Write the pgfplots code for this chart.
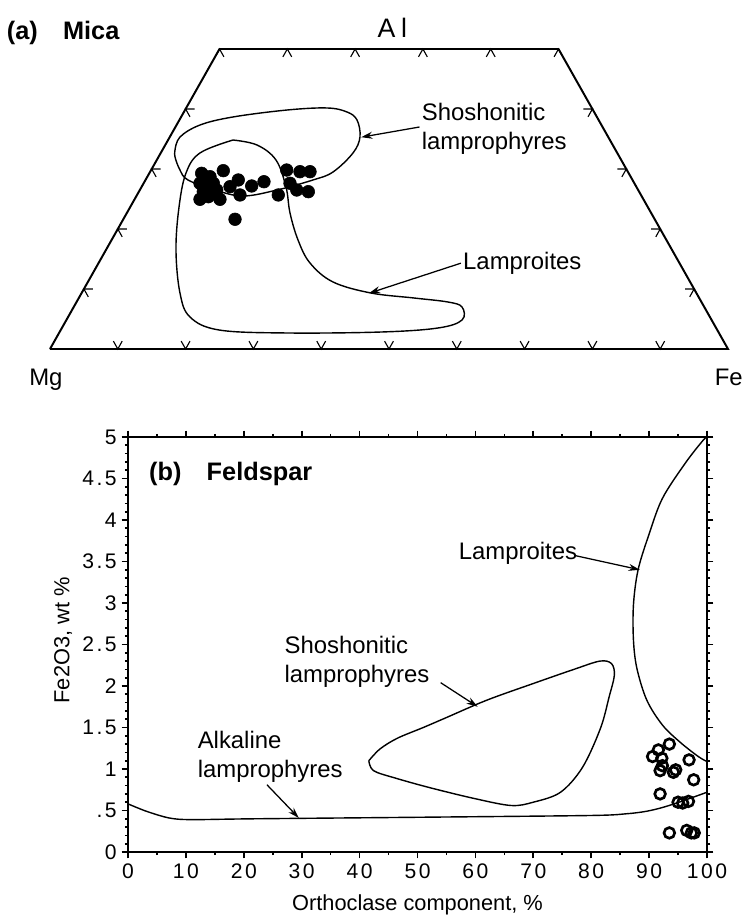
\documentclass[border=0pt]{standalone}
\usepackage{fontspec}
\setmainfont{Liberation Sans}
\usepackage{pgfplots}
\pgfplotsset{compat=1.18}
\usetikzlibrary{arrows.meta}

% ternary-style mica diagram, stored in base/height coordinates
\pgfplotstableread{
x y
0.0935 0.0131
0.1 0
0.1065 0.0131
nan nan
0.1935 0.0131
0.2 0
0.2065 0.0131
nan nan
0.2935 0.0131
0.3 0
0.3065 0.0131
nan nan
0.3935 0.0131
0.4 0
0.4065 0.0131
nan nan
0.4935 0.0131
0.5 0
0.5065 0.0131
nan nan
0.5935 0.0131
0.6 0
0.6065 0.0131
nan nan
0.6935 0.0131
0.7 0
0.7065 0.0131
nan nan
0.7935 0.0131
0.8 0
0.8065 0.0131
nan nan
0.8935 0.0131
0.9 0
0.9065 0.0131
nan nan
0.2435 0.4869
0.25 0.5
0.2565 0.4869
nan nan
0.3435 0.4869
0.35 0.5
0.3565 0.4869
nan nan
0.4435 0.4869
0.45 0.5
0.4565 0.4869
nan nan
0.5435 0.4869
0.55 0.5
0.5565 0.4869
nan nan
0.6435 0.4869
0.65 0.5
0.6565 0.4869
nan nan
0.7435 0.4869
0.75 0.5
0.7565 0.4869
nan nan
0.0633 0.1
0.05 0.1
0.0565 0.0869
nan nan
0.1133 0.2
0.1 0.2
0.1065 0.1869
nan nan
0.1633 0.3
0.15 0.3
0.1565 0.2869
nan nan
0.2133 0.4
0.2 0.4
0.2065 0.3869
nan nan
0.9367 0.1
0.95 0.1
0.9435 0.0869
nan nan
0.8867 0.2
0.9 0.2
0.8935 0.1869
nan nan
0.8367 0.3
0.85 0.3
0.8435 0.2869
nan nan
0.7867 0.4
0.8 0.4
0.7935 0.3869
}\ternticks

\pgfplotstableread{
x y
0.2237 0.2928
0.2360 0.2872
0.2556 0.2972
0.2212 0.2762
0.2311 0.2705
0.2409 0.2762
0.2261 0.2622
0.2385 0.2595
0.2212 0.2495
0.2507 0.2495
0.2655 0.2705
0.2777 0.2817
0.2802 0.2567
0.2975 0.2717
0.3156 0.2788
0.2729 0.2162
0.3491 0.2983
0.3687 0.2955
0.3835 0.2955
0.3540 0.2762
0.3639 0.2650
0.3810 0.2622
0.3367 0.2567
0.2335 0.2538
0.2459 0.2650
}\mica

\pgfplotstableread{
x y
0.1844 0.3317
0.1844 0.3200
0.1917 0.2983
0.2035 0.2817
0.2434 0.2650
0.2847 0.2550
0.3348 0.2650
0.3879 0.2817
0.4174 0.2950
0.4469 0.3267
0.4572 0.3533
0.4528 0.3817
0.4381 0.3950
0.4086 0.4017
0.3496 0.3983
0.2699 0.3867
0.2212 0.3733
0.1917 0.3533
0.1844 0.3317
}\micashosh

\pgfplotstableread{
x y
0.2699 0.3483
0.2212 0.3267
0.2006 0.2933
0.1903 0.2367
0.1858 0.1650
0.1917 0.0933
0.2065 0.0533
0.2493 0.0317
0.3481 0.0267
0.4882 0.0283
0.5723 0.0350
0.6077 0.0483
0.6077 0.0700
0.5870 0.0783
0.5369 0.0850
0.4735 0.0933
0.4174 0.1117
0.3835 0.1433
0.3658 0.1817
0.3540 0.2267
0.3481 0.2700
0.3333 0.3150
0.3053 0.3400
0.2699 0.3483
}\micalamp

% feldspar
\pgfplotstableread{
x y
90.6 1.15
91.6 1.23
93.5 1.30
92.2 1.13
92.3 1.04
91.9 0.98
94.2 0.96
94.6 0.99
96.9 1.11
97.7 0.87
91.9 0.70
95.0 0.60
95.8 0.59
96.8 0.61
93.5 0.23
96.5 0.26
97.3 0.23
97.8 0.23
}\feld

\pgfplotstableread{
x y
41.6 1.10
43.5 1.24
46.5 1.37
51.0 1.50
55.0 1.62
62.0 1.83
70.0 2.03
77.0 2.20
81.5 2.30
83.5 2.27
84.0 2.13
83.1 1.87
81.6 1.49
78.5 1.02
74.7 0.72
70.0 0.60
66.2 0.56
60.1 0.64
52.4 0.77
46.2 0.89
42.4 0.98
41.6 1.10
}\feldshosh

\pgfplotstableread{
x y
100 5.0
99.2 4.95
96.2 4.68
92.3 4.26
90.0 3.83
88.1 3.40
87.3 2.98
87.3 2.55
87.9 2.21
89.6 1.83
92.3 1.53
95.4 1.32
98.5 1.15
100 1.09
}\feldlamp

\pgfplotstableread{
x y
0 0.58
3.2 0.49
7.1 0.41
10.9 0.39
21.7 0.40
52.4 0.42
80.0 0.44
86.0 0.46
89.5 0.49
92.5 0.54
96.0 0.62
100 0.72
}\feldalk

\newcommand\lbl{\fontsize{17}{20.5}\selectfont}
\begin{document}
\begin{tikzpicture}
\path[use as bounding box] (0,0) rectangle (18.6cm,23.025cm);

\begin{axis}[
    at={(1.25cm,14.3cm)}, anchor=south west,
    scale only axis, width=16.95cm, height=7.5cm,
    xmin=0, xmax=1, ymin=0, ymax=0.5,
    axis lines=none, clip=false,
  ]
  \addplot[black, line width=1.4pt, line join=miter] coordinates {(0,0) (1,0) (0.75,0.5) (0.25,0.5) (0,0)};
  \addplot[black, line width=0.8pt, unbounded coords=jump] table {\ternticks};
  \addplot[black, line width=1pt, smooth, tension=0.6] table {\micashosh};
  \addplot[black, line width=1pt, smooth, tension=0.6] table {\micalamp};
  \addplot[only marks, mark=*, mark size=4.5pt, black] table {\mica};
  \addplot[black, line width=0.9pt, -{Stealth[length=8pt,width=5pt]}] coordinates {(0.545,0.370) (0.459,0.353)};
  \addplot[black, line width=0.9pt, -{Stealth[length=8pt,width=5pt]}] coordinates {(0.606,0.143) (0.4705,0.093)};
  \node[anchor=west, align=left, inner sep=0pt, font=\lbl] at (axis cs:0.548,0.367) {Shoshonitic\\lamprophyres};
  \node[anchor=west, inner sep=0pt, font=\lbl] at (axis cs:0.609,0.143) {Lamproites};
  \node[anchor=west, inner sep=0pt, font=\fontsize{18}{20}\selectfont\bfseries] at (axis cs:-0.064,0.527) {(a)\hspace{1.0em}Mica};
  \node[inner sep=0pt, font=\fontsize{19}{21}\selectfont] at (axis cs:0.505,0.535) {A\kern4pt l};
  \node[anchor=west, inner sep=0pt, font=\fontsize{17}{19}\selectfont] at (axis cs:-0.031,-0.052) {Mg};
  \node[anchor=east, inner sep=0pt, font=\fontsize{17}{19}\selectfont] at (axis cs:1.022,-0.047) {Fe};
\end{axis}

\begin{axis}[
    at={(3.2cm,1.725cm)}, anchor=south west,
    scale only axis, width=14.475cm, height=10.375cm,
    xmin=0, xmax=100, ymin=0, ymax=5,
    xtick={0,10,...,100},
    ytick={0,0.5,...,5},
    yticklabels={0,.5,1,1.5,2,2.5,3,3.5,4,4.5,5},
    minor x tick num=1, minor y tick num=4,
    tick align=outside,
    major tick length=0.16cm, minor tick length=0.08cm,
    tick style={black, line width=1.2pt},
    axis line style={line width=2pt},
    /pgf/number format/assume math mode=true,
    tick label style={font=\fontsize{15}{17}\selectfont\addfontfeatures{LetterSpace=12}},
    label style={font=\fontsize{15.5}{17}\selectfont},
    xlabel={Orthoclase component, \%},
    ylabel={Fe2O3, wt \%},
    xlabel style={at={(axis description cs:0.5,-0.127)}, anchor=center},
    ylabel style={at={(axis description cs:-0.112,0.51)}, anchor=center},
    clip=false,
  ]
  \addplot[black, line width=1pt, smooth, tension=0.55] table {\feldshosh};
  \addplot[black, line width=1pt, smooth, tension=0.55] table {\feldlamp};
  \addplot[black, line width=1pt, smooth, tension=0.5] table {\feldalk};
  \addplot[only marks, mark=o, mark size=3.8pt, mark options={line width=1.9pt}, black] table {\feld};
  \addplot[black, line width=0.9pt, -{Stealth[length=8pt,width=5pt]}] coordinates {(77.3,3.57) (88.4,3.40)};
  \addplot[black, line width=0.9pt, -{Stealth[length=8pt,width=5pt]}] coordinates {(54.0,2.04) (60.4,1.75)};
  \addplot[black, line width=0.9pt, -{Stealth[length=8pt,width=5pt]}] coordinates {(24.0,0.81) (29.5,0.41)};
  \node[anchor=east, inner sep=0pt, font=\lbl] at (axis cs:77.6,3.60) {Lamproites};
  \node[anchor=west, align=left, inner sep=0pt, font=\lbl] at (axis cs:27,2.29) {Shoshonitic\\lamprophyres};
  \node[anchor=west, align=left, inner sep=0pt, font=\lbl] at (axis cs:12,1.15) {Alkaline\\lamprophyres};
  \node[anchor=west, inner sep=0pt, font=\fontsize{18}{20}\selectfont\bfseries] at (axis cs:3.6,4.55) {(b)\hspace{1.0em}Feldspar};
\end{axis}
\end{tikzpicture}
\end{document}
